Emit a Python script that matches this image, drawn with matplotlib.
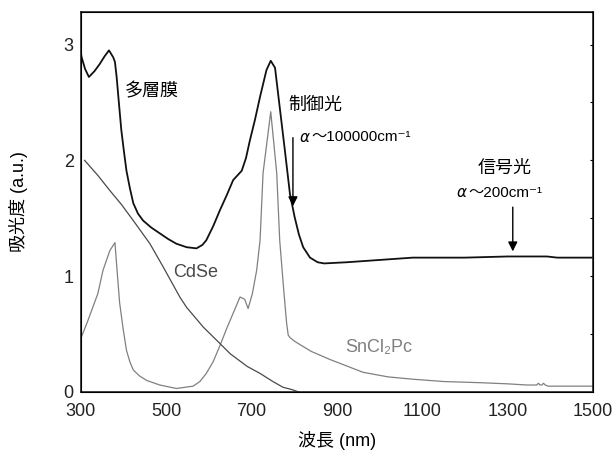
import numpy as np
import matplotlib.pyplot as plt

plt.rcParams['font.family'] = ['Liberation Sans', 'Noto Sans CJK JP', 'DejaVu Sans']

# 多層膜 (multilayer film)
multi_x = [300, 302, 310, 319, 332, 344, 356, 366, 376, 380, 384, 388, 395, 401, 407,
           415, 423, 434, 446, 465, 485, 505, 524, 548, 571, 585, 594, 610, 626, 642,
           657, 667, 677, 687, 696, 708, 720, 735, 745, 755, 766, 778, 790, 801, 811,
           821, 837, 855, 870, 923, 1000, 1078, 1200, 1300, 1392, 1416, 1500]
multi_y = [2.93, 2.89, 2.79, 2.72, 2.77, 2.83, 2.90, 2.95, 2.89, 2.85, 2.72, 2.55, 2.26,
           2.08, 1.91, 1.76, 1.63, 1.54, 1.48, 1.42, 1.37, 1.32, 1.28, 1.25, 1.24, 1.27,
           1.31, 1.43, 1.57, 1.70, 1.83, 1.87, 1.91, 2.02, 2.17, 2.35, 2.55, 2.78, 2.86,
           2.80, 2.46, 2.09, 1.71, 1.51, 1.36, 1.25, 1.16, 1.12, 1.11, 1.12, 1.14, 1.16,
           1.16, 1.17, 1.17, 1.16, 1.16]

# CdSe
cdse_x = [309, 340, 368, 395, 423, 462, 493, 532, 548, 587, 620, 650, 690, 720, 750,
          774, 795, 810]
cdse_y = [2.00, 1.87, 1.74, 1.62, 1.48, 1.28, 1.08, 0.82, 0.73, 0.56, 0.44, 0.33, 0.22,
          0.16, 0.09, 0.04, 0.02, 0.00]

# SnCl2Pc
sn_x = [300, 302, 315, 329, 340, 352, 368, 380, 385, 391, 399, 407, 415, 423, 437,
        454, 485, 524, 563, 579, 594, 610, 626, 642, 657, 673, 684, 692, 702, 712,
        720, 727, 745, 759, 766, 775, 782, 786, 790, 800, 813, 840, 884, 961, 1020,
        1078, 1150, 1235, 1300, 1345, 1368, 1372, 1376, 1380, 1384, 1388, 1395, 1500]
sn_y = [0.47, 0.48, 0.60, 0.74, 0.85, 1.05, 1.22, 1.29, 1.05, 0.77, 0.55, 0.36, 0.26,
        0.19, 0.14, 0.10, 0.06, 0.03, 0.05, 0.09, 0.16, 0.26, 0.40, 0.55, 0.68, 0.82,
        0.80, 0.72, 0.85, 1.05, 1.31, 1.89, 2.42, 1.89, 1.31, 0.90, 0.60, 0.49, 0.47,
        0.44, 0.41, 0.35, 0.28, 0.17, 0.13, 0.11, 0.09, 0.08, 0.07, 0.06, 0.06, 0.075,
        0.06, 0.06, 0.075, 0.06, 0.05, 0.05]

fig = plt.figure(figsize=(6.12, 4.5), dpi=100)
ax = fig.add_axes([0.132, 0.129, 0.837, 0.844])

ax.plot(sn_x, sn_y, color='#808080', linewidth=0.9)
ax.plot(cdse_x, cdse_y, color='#4a4a4a', linewidth=0.9)
ax.plot(multi_x, multi_y, color='#111111', linewidth=1.3)

ax.set_xlim(300, 1500)
ax.set_ylim(0, 3.28)
ax.set_xticks([300, 500, 700, 900, 1100, 1300, 1500])
ax.set_yticks([0, 1, 2, 3])
ax.tick_params(axis='both', length=0, labelsize=13, colors='#222222')
ax.tick_params(axis='y', pad=5)
ax.tick_params(axis='x', pad=8)
for s in ax.spines.values():
    s.set_linewidth(1.2)
    s.set_color('#222222')

# small inward ticks on the right spine
ax2 = ax.twinx()
ax2.set_ylim(0, 3.28)
ax2.set_yticks(np.arange(0.5, 3.01, 0.5))
ax2.set_yticklabels([])
ax2.tick_params(axis='y', direction='in', length=2, width=0.8)

ax.set_xlabel('波長 (nm)', fontsize=13, labelpad=8)
ax.set_ylabel('吸光度 (a.u.)', fontsize=13, labelpad=26)

ax.text(403, 2.59, '多層膜', fontsize=13, va='center')
ax.text(516, 1.03, 'CdSe', fontsize=13, va='center', color='#4a4a4a')
ax.text(919, 0.38, 'SnCl₂Pc', fontsize=13, va='center', color='#808080')

# 制御光
ax.text(785, 2.47, '制御光', fontsize=13, va='center')
ax.text(813, 2.2, 'α', fontsize=11, va='center', style='italic', family='DejaVu Sans')
ax.annotate('～100000cm⁻¹', xy=(813, 2.2), xytext=(8, 0), textcoords='offset points',
            fontsize=11, va='center')
ax.annotate('', xy=(797, 1.58), xytext=(797, 2.22),
            arrowprops=dict(arrowstyle='-|>', color='black', lw=1, mutation_scale=14))

# 信号光
ax.text(1294, 1.93, '信号光', fontsize=13, va='center', ha='center')
ax.text(1181, 1.72, 'α', fontsize=11, va='center', style='italic', family='DejaVu Sans')
ax.annotate('～200cm⁻¹', xy=(1181, 1.72), xytext=(8, 0), textcoords='offset points',
            fontsize=11, va='center')
ax.annotate('', xy=(1312, 1.19), xytext=(1312, 1.62),
            arrowprops=dict(arrowstyle='-|>', color='black', lw=1, mutation_scale=14))

fig.savefig('out.png', dpi=100)
